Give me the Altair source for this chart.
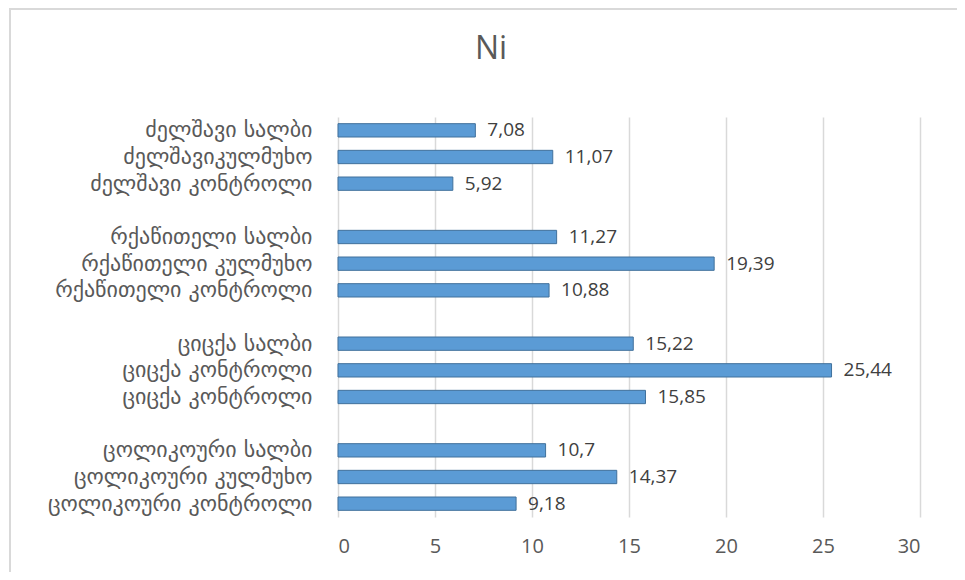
import json
import altair as alt
import pandas as pd

# Category labels, top to bottom ("" = blank separator row)
labels = [
    "ძელშავი სალბი", "ძელშავიკულმუხო", "ძელშავი კონტროლი", "",
    "რქაწითელი სალბი", "რქაწითელი კულმუხო", "რქაწითელი კონტროლი", "",
    "ციცქა სალბი", "ციცქა კონტროლი", "ციცქა კონტროლი", "",
    "ცოლიკოური სალბი", "ცოლიკოური კულმუხო", "ცოლიკოური კონტროლი",
]
values = [
    7.08, 11.07, 5.92, None,
    11.27, 19.39, 10.88, None,
    15.22, 25.44, 15.85, None,
    10.7, 14.37, 9.18,
]
x_ticks = [0, 5, 10, 15, 20, 25, 30]

keys = list(range(len(labels)))
df = pd.DataFrame({"key": keys, "label": labels, "value": values})

W, H = 582, 400
PAD = {"left": 330, "top": 109, "right": 37, "bottom": 55}

label_expr = json.dumps(labels, ensure_ascii=False) + "[datum.value]"

y_enc = alt.Y(
    "key:O",
    scale=alt.Scale(domain=keys, paddingInner=0.5, paddingOuter=0.25),
    axis=alt.Axis(
        title=None, ticks=False, domain=False, grid=False,
        labelExpr=label_expr, labelPadding=26, labelFontSize=22,
        labelFont="DejaVu Sans", labelColor="#595959", labelLimit=0,
    ),
)
x_enc = alt.X(
    "value:Q",
    scale=alt.Scale(domain=[0, 30], nice=False),
    axis=alt.Axis(
        title=None, values=x_ticks, ticks=False, domain=False,
        grid=True, gridColor="#d9d9d9", gridWidth=1.5,
        labelFontSize=20, labelColor="#595959", labelFont="Open Sans",
        labelPadding=19,
    ),
)

base = alt.Chart(df).transform_filter("isValid(datum.value)")

bars = base.mark_bar(
    color="#5b9bd5", stroke="#41719c", strokeWidth=1
).encode(x=x_enc, y=y_enc)

texts = base.transform_calculate(
    txt="replace(format(datum.value, '.2~f'), '.', ',')"
).mark_text(
    align="left", baseline="middle", dx=12, fontSize=19,
    font="Open Sans", color="#404040"
).encode(x="value:Q", y="key:O", text="txt:N")

border = alt.Chart(pd.DataFrame({"a": [0]})).mark_rect(
    fill=None, stroke="#d9d9d9", strokeWidth=2
).encode(
    x=alt.value(-PAD["left"] + 2), x2=alt.value(W + PAD["right"] + 20),
    y=alt.value(-PAD["top"] + 1), y2=alt.value(H + PAD["bottom"] + 20),
)

chart = alt.layer(border, bars, texts).properties(
    width=W, height=H,
    autosize=alt.AutoSizeParams(type="none"),
    padding=PAD,
    title=alt.TitleParams(
        "Ni", fontSize=32, font="Open Sans", fontWeight="normal",
        color="#595959", anchor="middle", frame="group", dx=-138, offset=-58,
    ),
).configure_view(stroke=None)

chart.save("out.html", embed_options={"renderer": "svg", "actions": False})
